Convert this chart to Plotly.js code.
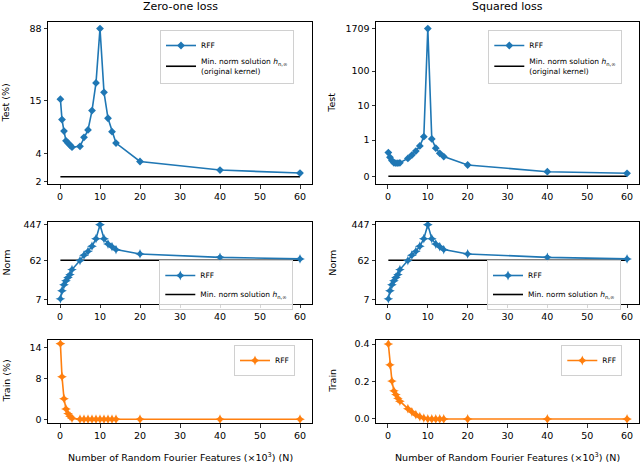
<!DOCTYPE html>
<html>
<head>
<meta charset="utf-8">
<script src="https://cdn.plot.ly/plotly-3.0.1.min.js"></script>
<style>html,body{margin:0;padding:0;background:#fff;}#chart{width:640px;height:464px;}</style>
</head>
<body>
<div id="chart"></div>
<script>
// ---- data (N in thousands) ----
const featuresN = [0.1, 0.5, 1, 1.5, 2, 2.5, 3, 5, 6, 7, 8, 9, 10, 11, 12, 13, 14, 20, 40, 60];
const testZeroOne = [15.4, 9.3, 7.0, 5.5, 5.2, 4.95, 4.7, 4.8, 6.0, 7.2, 11.6, 23, 88, 18.2, 9.6, 6.9, 5.2, 3.3, 2.67, 2.48];
const testSquared = [0.66, 0.53, 0.44, 0.38, 0.37, 0.37, 0.38, 0.50, 0.59, 0.70, 0.84, 1.26, 1709, 1.08, 0.78, 0.64, 0.55, 0.32, 0.137, 0.093];
const normRFF = [7.3, 11.5, 16, 20, 24, 28, 37, 61, 82, 102, 135, 206, 447, 206, 153, 132, 112, 88, 73, 67];
const trainZeroOne = [14.7, 8.3, 4.0, 2.0, 1.1, 0.6, 0.2, 0, 0, 0, 0, 0, 0, 0, 0, 0, 0, 0, 0, 0];
const trainSquared = [0.40, 0.289, 0.202, 0.15, 0.13, 0.11, 0.095, 0.055, 0.038, 0.023, 0.012, 0.005, 0.001, 0, 0, 0, 0, 0, 0, 0];
const kernelX = [0.1, 60];
const kernelTestZeroOne = [2.26, 2.26];
const kernelTestSquared = [0.01, 0.01];
const kernelNorm = [62, 62];
const tickZeroOne = [2, 4, 15, 88];
const tickSquared = [0, 1, 10, 100, 1709];
const tickNorm = [7, 62, 447];
const tickTrainZeroOne = [0, 8, 14];
const tickTrainSquared = [0, 0.2, 0.4];
const tickTrainSquaredText = ['0.0', '0.2', '0.4'];
const xTicks = [0, 10, 20, 30, 40, 50, 60];

// symmetric-log style mapping used by the squared-loss test axis
const LIN = 1.06;
function symlog(v) { return v <= 1 ? v * LIN : LIN + Math.log10(v); }

const BLUE = '#1f77b4', ORANGE = '#ff7f0e';
const FONT = 'DejaVu Sans, sans-serif';
const minNormName = 'Min. norm solution <i>h</i><sub>n,∞</sub>';

const traces = [
  // top-left
  {x: kernelX, y: kernelTestZeroOne, xaxis: 'x', yaxis: 'y', mode: 'lines', line: {color: '#000', width: 1.6}, name: minNormName + '<br>(original kernel)', legend: 'legend', legendrank: 2},
  {x: featuresN, y: testZeroOne, xaxis: 'x', yaxis: 'y', mode: 'lines+markers', line: {color: BLUE, width: 1.6}, marker: {symbol: 'diamond', size: 6, color: BLUE}, name: 'RFF', legend: 'legend', legendrank: 1},
  // top-right
  {x: kernelX, y: kernelTestSquared.map(symlog), xaxis: 'x2', yaxis: 'y2', mode: 'lines', line: {color: '#000', width: 1.6}, name: minNormName + '<br>(original kernel)', legend: 'legend2', legendrank: 2},
  {x: featuresN, y: testSquared.map(symlog), xaxis: 'x2', yaxis: 'y2', mode: 'lines+markers', line: {color: BLUE, width: 1.6}, marker: {symbol: 'diamond', size: 6, color: BLUE}, name: 'RFF', legend: 'legend2', legendrank: 1},
  // middle-left
  {x: kernelX, y: kernelNorm, xaxis: 'x3', yaxis: 'y3', mode: 'lines', line: {color: '#000', width: 1.6}, name: minNormName, legend: 'legend3', legendrank: 2},
  {x: featuresN, y: normRFF, xaxis: 'x3', yaxis: 'y3', mode: 'lines+markers', line: {color: BLUE, width: 1.6}, marker: {symbol: 'star-diamond', size: 7, color: BLUE}, name: 'RFF', legend: 'legend3', legendrank: 1},
  // middle-right
  {x: kernelX, y: kernelNorm, xaxis: 'x4', yaxis: 'y4', mode: 'lines', line: {color: '#000', width: 1.6}, name: minNormName, legend: 'legend4', legendrank: 2},
  {x: featuresN, y: normRFF, xaxis: 'x4', yaxis: 'y4', mode: 'lines+markers', line: {color: BLUE, width: 1.6}, marker: {symbol: 'star-diamond', size: 7, color: BLUE}, name: 'RFF', legend: 'legend4', legendrank: 1},
  // bottom
  {x: featuresN, y: trainZeroOne, xaxis: 'x5', yaxis: 'y5', mode: 'lines+markers', line: {color: ORANGE, width: 1.6}, marker: {symbol: 'star-diamond', size: 7, color: ORANGE}, name: 'RFF', legend: 'legend5'},
  {x: featuresN, y: trainSquared, xaxis: 'x6', yaxis: 'y6', mode: 'lines+markers', line: {color: ORANGE, width: 1.6}, marker: {symbol: 'star-diamond', size: 7, color: ORANGE}, name: 'RFF', legend: 'legend6'}
];

const axBase = {
  showline: true, mirror: true, linecolor: '#000', linewidth: 1,
  ticks: 'outside', ticklen: 3.5, tickwidth: 0.8, tickcolor: '#000',
  showgrid: false, zeroline: false, tickfont: {family: FONT, size: 9.5, color: '#000'}
};
function xa(domain, anchor) {
  return Object.assign({}, axBase, {domain: domain, anchor: anchor, range: [-3, 63], tickmode: 'array', tickvals: xTicks});
}
function ya(domain, anchor, extra) {
  return Object.assign({}, axBase, {domain: domain, anchor: anchor, tickmode: 'array'}, extra);
}
const L = [0, 0.4467], R = [0.555, 1];
const TOP = [0.596, 1], MID = [0.297, 0.502], BOT = [0, 0.207];

function leg(x, y) {
  return {x: x, y: y, xanchor: 'right', yanchor: 'top', xref: 'paper', yref: 'paper',
    bgcolor: 'rgba(255,255,255,0.8)', bordercolor: '#d0d0d0', borderwidth: 1,
    font: {family: FONT, size: 7.5, color: '#000'}, itemwidth: 30, tracegroupgap: 0, traceorder: 'normal'};
}

function ann(text, x, y, angle, size) {
  return {text: text, x: x, y: y, xref: 'paper', yref: 'paper', showarrow: false, textangle: angle || 0,
    xanchor: 'center', yanchor: 'middle', font: {family: FONT, size: size || 9.5, color: '#000'}};
}
const px2x = p => (p - 48) / 591;
const px2y = p => (423 - p) / 401;

const layout = {
  width: 640, height: 464,
  margin: {l: 48, r: 1, t: 22, b: 41},
  paper_bgcolor: '#fff', plot_bgcolor: '#fff',
  showlegend: true,
  font: {family: FONT, size: 9, color: '#000'},
  xaxis: xa(L, 'y'), yaxis: ya(TOP, 'x', {type: 'log', range: [0.277, 2.015], tickvals: tickZeroOne, ticktext: tickZeroOne.map(String)}),
  xaxis2: xa(R, 'y2'), yaxis2: ya(TOP, 'x2', {range: [-0.212, 4.484], tickvals: tickSquared.map(symlog), ticktext: tickSquared.map(String)}),
  xaxis3: xa(L, 'y3'), yaxis3: ya(MID, 'x3', {type: 'log', range: [0.741, 2.722], tickvals: tickNorm, ticktext: tickNorm.map(String)}),
  xaxis4: xa(R, 'y4'), yaxis4: ya(MID, 'x4', {type: 'log', range: [0.741, 2.722], tickvals: tickNorm, ticktext: tickNorm.map(String)}),
  xaxis5: xa(L, 'y5'), yaxis5: ya(BOT, 'x5', {range: [-0.735, 15.44], tickvals: tickTrainZeroOne, ticktext: tickTrainZeroOne.map(String)}),
  xaxis6: xa(R, 'y6'), yaxis6: ya(BOT, 'x6', {range: [-0.0215, 0.4215], tickvals: tickTrainSquared, ticktext: tickTrainSquaredText}),
  legend: leg(px2x(294), px2y(30)),
  legend2: leg(px2x(622.3), px2y(30)),
  legend3: leg(px2x(293.3), px2y(260)),
  legend4: leg(px2x(621), px2y(260)),
  legend5: leg(px2x(295), px2y(345)),
  legend6: leg(px2x(622.3), px2y(345)),
  annotations: [
    ann('Zero-one loss', px2x(180), px2y(6.5), 0, 11),
    ann('Squared loss', px2x(507.5), px2y(6.5), 0, 11),
    ann('Test (%)', px2x(5.5), px2y(103), -90),
    ann('Test', px2x(331.7), px2y(103), -90),
    ann('Norm', px2x(5.5), px2y(263), -90),
    ann('Norm', px2x(331.7), px2y(263), -90),
    ann('Train (%)', px2x(5.5), px2y(381), -90),
    ann('Train', px2x(331.7), px2y(381), -90),
    ann('Number of Random Fourier Features (×10<sup>3</sup>) (N)', px2x(180), px2y(456.5)),
    ann('Number of Random Fourier Features (×10<sup>3</sup>) (N)', px2x(507.5), px2y(456.5))
  ]
};

Plotly.newPlot('chart', traces, layout, {displayModeBar: false, staticPlot: true});
</script>
</body>
</html>
